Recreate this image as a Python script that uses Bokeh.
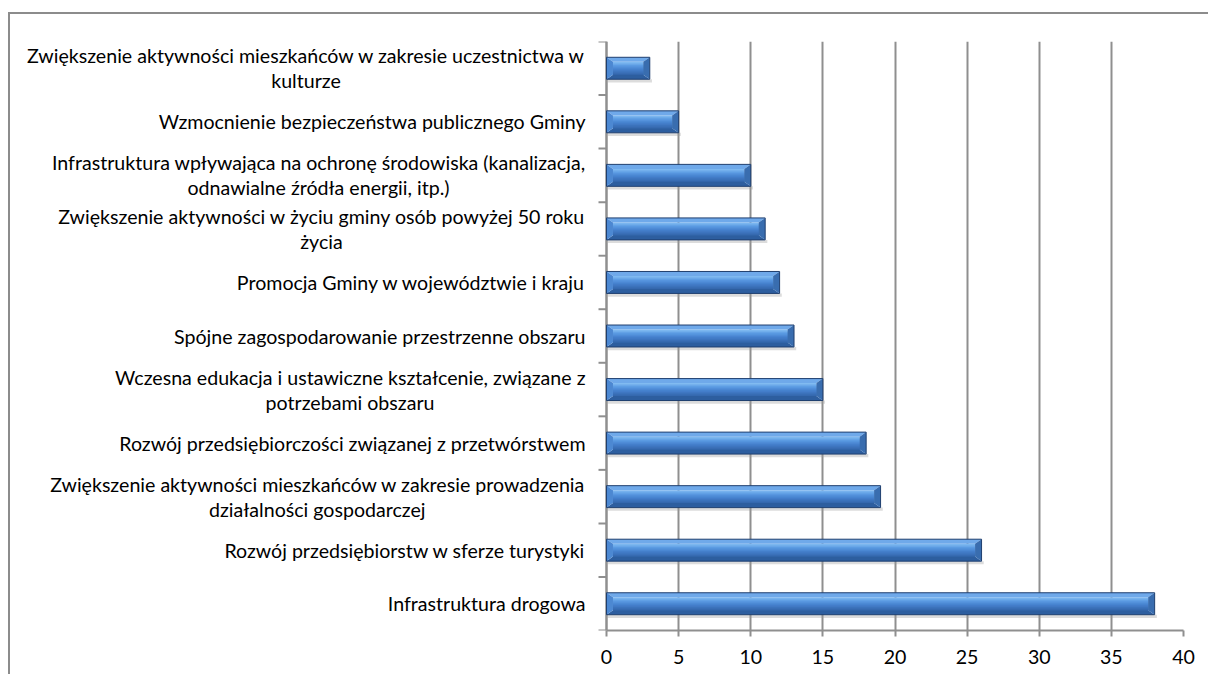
import glob
import math
import struct
import subprocess

from bokeh.plotting import figure
from bokeh.models import ColumnDataSource, FixedTicker, Range1d
from bokeh.core.properties import value
from bokeh.embed import file_html
from bokeh.resources import INLINE

# ---------------- data (bottom -> top) ----------------
categories = [
    "Infrastruktura drogowa",
    "Rozwój przedsiębiorstw w sferze turystyki",
    "Zwiększenie aktywności mieszkańców w zakresie prowadzenia\ndziałalności gospodarczej",
    "Rozwój przedsiębiorczości związanej z przetwórstwem",
    "Wczesna edukacja i ustawiczne kształcenie, związane z\npotrzebami obszaru",
    "Spójne zagospodarowanie przestrzenne obszaru",
    "Promocja Gminy w województwie i kraju",
    "Zwiększenie aktywności w życiu gminy osób powyżej 50 roku\nżycia",
    "Infrastruktura wpływająca na ochronę środowiska (kanalizacja,\nodnawialne źródła energii, itp.)",
    "Wzmocnienie bezpieczeństwa publicznego Gminy",
    "Zwiększenie aktywności mieszkańców w zakresie uczestnictwa w\nkulturze",
]
values = [38, 26, 19, 18, 15, 13, 12, 11, 10, 5, 3]
x_ticks = [0, 5, 10, 15, 20, 25, 30, 35, 40]
x_max = 40

FONT = "Lato"


# ---------------- text measuring (for centred two-line labels) ----------------
def find_font_file(name):
    try:
        out = subprocess.run(["fc-match", "-f", "%{file}", name], capture_output=True, text=True, timeout=5)
        path = out.stdout.strip()
        if path and "lato" in path.lower():
            return path
    except Exception:
        pass
    for pat in ["/usr/share/fonts/**/Lato-Regular.ttf", "/usr/share/fonts/**/Lato*Regular*.ttf",
                "/usr/local/share/fonts/**/Lato*Regular*.ttf", "/usr/share/fonts/**/Lato*.ttf"]:
        hits = glob.glob(pat, recursive=True)
        if hits:
            return sorted(hits)[0]
    return None


def advance_table(path, chars):
    data = open(path, "rb").read()
    base = struct.unpack(">I", data[12:16])[0] if data[:4] == b"ttcf" else 0
    num = struct.unpack(">H", data[base + 4:base + 6])[0]
    tables = {}
    for i in range(num):
        tag, _, off, ln = struct.unpack(">4sIII", data[base + 12 + 16 * i:base + 28 + 16 * i])
        tables[tag.decode("latin1")] = off
    upem = struct.unpack(">H", data[tables["head"] + 18:tables["head"] + 20])[0]
    nhm = struct.unpack(">H", data[tables["hhea"] + 34:tables["hhea"] + 36])[0]
    hoff = tables["hmtx"]
    coff = tables["cmap"]
    n = struct.unpack(">H", data[coff + 2:coff + 4])[0]
    st = None
    for i in range(n):
        pid, eid, so = struct.unpack(">HHI", data[coff + 4 + 8 * i:coff + 12 + 8 * i])
        fmt = struct.unpack(">H", data[coff + so:coff + so + 2])[0]
        if fmt == 4 and ((pid == 3 and eid == 1) or pid == 0):
            st = coff + so
            break
    seg2 = struct.unpack(">H", data[st + 6:st + 8])[0]
    segc = seg2 // 2
    ends = struct.unpack(">%dH" % segc, data[st + 14:st + 14 + seg2])
    starts = struct.unpack(">%dH" % segc, data[st + 16 + seg2:st + 16 + 2 * seg2])
    deltas = struct.unpack(">%dh" % segc, data[st + 16 + 2 * seg2:st + 16 + 3 * seg2])
    rpos = st + 16 + 3 * seg2
    roffs = struct.unpack(">%dH" % segc, data[rpos:rpos + seg2])
    adv = {}
    for ch in chars:
        c = ord(ch)
        g = 0
        for s in range(segc):
            if starts[s] <= c <= ends[s]:
                if roffs[s] == 0:
                    g = (c + deltas[s]) & 0xFFFF
                else:
                    addr = rpos + 2 * s + roffs[s] + 2 * (c - starts[s])
                    g = struct.unpack(">H", data[addr:addr + 2])[0]
                    if g:
                        g = (g + deltas[s]) & 0xFFFF
                break
        gi = min(g, nhm - 1)
        adv[ch] = struct.unpack(">H", data[hoff + 4 * gi:hoff + 4 * gi + 2])[0] / upem
    return adv


try:
    ADV = advance_table(find_font_file(FONT), set("".join(categories)))
except Exception:
    ADV = None


def text_em(s):
    if ADV is None:
        return 0.5 * len(s)
    return sum(ADV.get(ch, 0.5) for ch in s)


# font size so the longest first line is about as wide as in the picture (~559 px)
ref_line = categories[-1].split("\n")[0]
font_px = max(14.0, min(20.0, 559.0 / text_em(ref_line)))
FS = "%.1fpx" % font_px

# ---------------- layout ----------------
n = len(values)
LABEL_W = 596          # px reserved left of the value axis (inside the frame)
PLOT_W = 577           # px for 0..x_max
FRAME_W = LABEL_W + PLOT_W
FRAME_H = 589
x_start = -x_max * LABEL_W / PLOT_W

bar_h = 0.41
bx = 0.45   # bevel width in x-units
by = 0.085  # bevel height in y-units
GAP = 21    # px between label and axis
LINE_SP = 12.5


def hex2rgb(h):
    return tuple(int(h[k:k + 2], 16) for k in (1, 3, 5))


def mix(c1, c2, t):
    a, b = hex2rgb(c1), hex2rgb(c2)
    return "#%02x%02x%02x" % tuple(round(a[k] + (b[k] - a[k]) * t) for k in range(3))


# vertical colour gradient of the bar face (top -> bottom)
grad_stops = [(0.0, "#86bff3"), (0.3, "#5a9ae2"), (0.6, "#4580cd"), (1.0, "#3466ab")]
N_STRIPES = 16
stripe_spec = []
for k in range(N_STRIPES):
    t0 = k / N_STRIPES
    tm = (k + 0.5) / N_STRIPES
    for (a, ca), (b, cb) in zip(grad_stops[:-1], grad_stops[1:]):
        if a <= tm <= b:
            stripe_spec.append((t0, mix(ca, cb, (tm - a) / (b - a))))
            break

shadow = dict(left=[], right=[], top=[], bottom=[])
stripes = dict(left=[], right=[], top=[], bottom=[], color=[])
facets = dict(xs=[], ys=[], color=[])
outline = dict(xs=[], ys=[])

for i, v in enumerate(values):
    yc = i + 0.5
    top = yc + bar_h / 2
    bot = yc - bar_h / 2
    shadow["left"].append(0.1)
    shadow["right"].append(v + 0.15)
    shadow["top"].append(bot)
    shadow["bottom"].append(bot - 0.06)
    ft, fb = top - by, bot + by
    # each stripe runs down to the face bottom; the next one paints over it (no seams)
    for a, col in stripe_spec:
        stripes["left"].append(bx)
        stripes["right"].append(v - bx)
        stripes["top"].append(ft - a * (ft - fb))
        stripes["bottom"].append(fb)
        stripes["color"].append(col)
    facets["xs"] += [[0, v, v - bx, bx], [0, v, v - bx, bx], [0, bx, bx, 0], [v, v - bx, v - bx, v]]
    facets["ys"] += [[top, top, ft, ft], [bot, bot, fb, fb], [top, ft, fb, bot], [top, ft, fb, bot]]
    facets["color"] += ["#6fa9ea", "#2d5e9f", "#4c88d2", "#396daf"]
    outline["xs"].append([0, v, v, 0])
    outline["ys"].append([top, top, bot, bot])

# labels
lab_r = dict(x=[], y=[], text=[], yoff=[])
lab_c = dict(x=[], y=[], text=[], yoff=[], xoff=[])
for i, c in enumerate(categories):
    parts = c.split("\n")
    yc = i + 0.5
    if len(parts) == 1:
        lab_r["x"].append(0); lab_r["y"].append(yc); lab_r["text"].append(parts[0]); lab_r["yoff"].append(0)
    else:
        w1 = text_em(parts[0]) * font_px
        lab_r["x"].append(0); lab_r["y"].append(yc); lab_r["text"].append(parts[0]); lab_r["yoff"].append(-LINE_SP)
        lab_c["x"].append(0); lab_c["y"].append(yc); lab_c["text"].append(parts[1]); lab_c["yoff"].append(LINE_SP)
        lab_c["xoff"].append(-(GAP + w1 / 2.0))

# category-boundary ticks of the value-axis
ytick = dict(x=[0] * (n + 1), y=list(range(n + 1)))

# ---------------- figure ----------------
p = figure(
    output_backend="svg", toolbar_location=None,
    frame_width=FRAME_W, frame_height=FRAME_H,
    min_border_left=0, min_border_right=25, min_border_top=27, min_border_bottom=44,
    x_range=Range1d(x_start, x_max), y_range=Range1d(0, n),
    y_axis_location=None,
    background_fill_color="white", border_fill_color="white",
)
p.outline_line_color = None
p.styles = {"border-top": "2px solid #8c8c8c", "border-left": "2px solid #8c8c8c",
            "margin-top": "12px", "margin-left": "8px"}

GRID = "#8f8f8f"
p.xgrid.ticker = FixedTicker(ticks=x_ticks)
p.xgrid.grid_line_color = GRID
p.xgrid.grid_line_width = 2
p.ygrid.grid_line_color = None

p.xaxis.ticker = FixedTicker(ticks=x_ticks)
p.xaxis.bounds = (0, x_max)
p.xaxis.axis_line_color = GRID
p.xaxis.axis_line_width = 2
p.xaxis.major_tick_line_color = GRID
p.xaxis.major_tick_line_width = 2
p.xaxis.major_tick_out = 6
p.xaxis.major_tick_in = 0
p.xaxis.minor_tick_line_color = None
p.xaxis.major_label_text_font = FONT
p.xaxis.major_label_text_font_size = FS
p.xaxis.major_label_text_color = "black"
p.xaxis.major_label_standoff = 13

# value axis line (at x = 0) and its ticks between categories
p.segment(x0=0, y0=0, x1=0, y1=n, line_color=GRID, line_width=2)
p.ray(source=ColumnDataSource(ytick), x="x", y="y", length=8, length_units="screen",
      angle=math.pi, line_color=GRID, line_width=2)

# bars
p.quad(source=ColumnDataSource(shadow), left="left", right="right", top="top", bottom="bottom",
       fill_color="#9a9a9a", fill_alpha=0.35, line_color=None)
p.quad(source=ColumnDataSource(stripes), left="left", right="right", top="top", bottom="bottom",
       fill_color="color", line_color=None)
p.patches(source=ColumnDataSource(facets), xs="xs", ys="ys", fill_color="color", line_color=None)
p.patches(source=ColumnDataSource(outline), xs="xs", ys="ys", fill_color=None,
          line_color="#1f3f6f", line_width=1)

# category labels
p.text(source=ColumnDataSource(lab_r), x="x", y="y", text="text", x_offset=-GAP, y_offset="yoff",
       text_align="right", text_baseline="middle",
       text_font=value(FONT), text_font_size=value(FS), text_color="black")
p.text(source=ColumnDataSource(lab_c), x="x", y="y", text="text", x_offset="xoff", y_offset="yoff",
       text_align="center", text_baseline="middle",
       text_font=value(FONT), text_font_size=value(FS), text_color="black")

open("out.html", "w").write(file_html(p, INLINE))
